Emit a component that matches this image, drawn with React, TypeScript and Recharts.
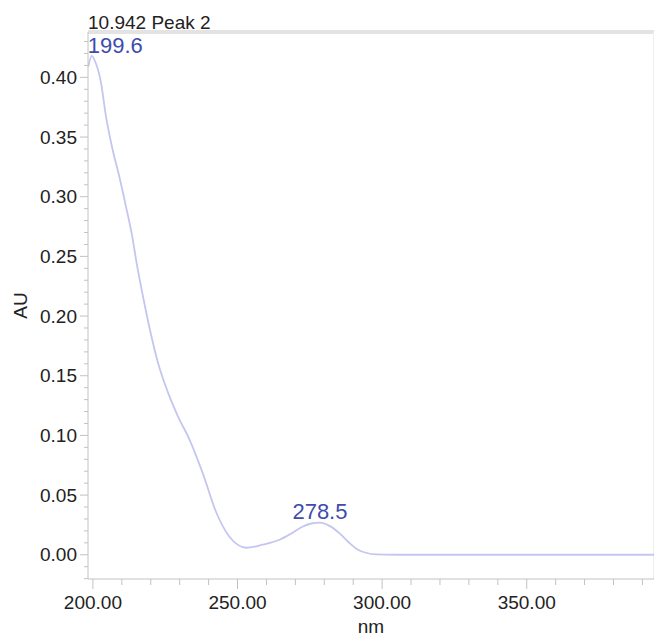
import React from 'react';
import { LineChart, Line, XAxis, YAxis, ReferenceLine, ReferenceDot } from 'recharts';

const wavelengths = [198.4, 199.6, 201.0, 202.8, 204.5, 206.8, 209.1, 211.4, 213.5, 215.1, 217.3, 219.7, 222.5, 226.0, 229.4, 233.4, 237.9, 242.7, 247.2, 250.0, 253.0, 258.6, 264.5, 268.0, 272.4, 275.5, 278.5, 282.0, 285.5, 288.6, 291.5, 294.4, 298.0, 305.0, 320.0, 340.0, 360.0, 380.0, 394.0];
const absorbance = [0.409, 0.418, 0.412, 0.3955, 0.3675, 0.3396, 0.3172, 0.2921, 0.268, 0.2446, 0.2166, 0.1887, 0.1608, 0.1356, 0.116, 0.0965, 0.0688, 0.0352, 0.0151, 0.0085, 0.0059, 0.0084, 0.0126, 0.017, 0.0235, 0.0262, 0.027, 0.024, 0.0175, 0.0101, 0.0045, 0.0017, 0.0003, 0, 0, 0, 0, 0, 0];

const peakNm = [199.6, 278.5];
const peakAu = [0.418, 0.027];

const xTicks = [200, 210, 220, 230, 240, 250, 260, 270, 280, 290, 300, 310, 320, 330, 340, 350, 360, 370, 380, 390];
const yTicks = [-0.02, -0.01, 0, 0.01, 0.02, 0.03, 0.04, 0.05, 0.06, 0.07, 0.08, 0.09, 0.1, 0.11, 0.12, 0.13, 0.14, 0.15, 0.16, 0.17, 0.18, 0.19, 0.2, 0.21, 0.22, 0.23, 0.24, 0.25, 0.26, 0.27, 0.28, 0.29, 0.3, 0.31, 0.32, 0.33, 0.34, 0.35, 0.36, 0.37, 0.38, 0.39, 0.4, 0.41, 0.42, 0.43];
const xDomain = [198.3, 394];
const yDomain = [-0.0203, 0.438];

const title = '10.942 Peak 2';
const xLabel = 'nm';
const yLabel = 'AU';

const data = wavelengths.map((nm, i) => ({ nm, au: absorbance[i] }));

const FONT = '"Liberation Sans", Arial, Helvetica, sans-serif';
const AXIS = '#c2c2c2';
const TEXT = '#222';
const BLUE = '#3e4cab';

const XTick = (props: any) => {
  const { x, y, payload } = props;
  const v = payload.value;
  const major = Math.round(v) % 50 === 0;
  return (
    <g>
      <line x1={x} x2={x} y1={y} y2={y + (major ? 10 : 6)} stroke={AXIS} strokeWidth={1} />
      {major && (
        <text x={x} y={y + 30} textAnchor="middle" fontSize={19} fontFamily={FONT} fill={TEXT}>
          {v.toFixed(2)}
        </text>
      )}
    </g>
  );
};

const YTick = (props: any) => {
  const { x, y, payload } = props;
  const v = payload.value;
  const major = Math.round(v * 100) % 5 === 0 && v >= 0;
  return (
    <g>
      <line x1={x - (major ? 8 : 4)} x2={x} y1={y} y2={y} stroke={AXIS} strokeWidth={1} />
      {major && (
        <text x={x - 11} y={y} dy="0.35em" textAnchor="end" fontSize={19} fontFamily={FONT} fill={TEXT}>
          {v.toFixed(2)}
        </text>
      )}
    </g>
  );
};

export default function App() {
  return (
    <div style={{ position: 'absolute', left: 0, top: 0, width: 654, height: 636, background: '#fff', overflow: 'hidden' }}>
      <div
        style={{
          position: 'absolute',
          left: 88,
          top: 13,
          fontSize: 19,
          lineHeight: '19px',
          fontFamily: FONT,
          color: TEXT,
          whiteSpace: 'nowrap',
        }}
      >
        {title}
      </div>
      <LineChart width={654} height={636} data={data} margin={{ top: 32, right: 0, left: 0, bottom: 0 }}>
        <XAxis
          dataKey="nm"
          type="number"
          domain={xDomain}
          ticks={xTicks}
          interval={0}
          allowDataOverflow
          tickSize={0}
          tickMargin={0}
          tick={<XTick />}
          axisLine={{ stroke: AXIS }}
          height={57}
          label={{ value: xLabel, position: 'insideBottom', offset: 3, fontSize: 19, fontFamily: FONT, fill: TEXT }}
        />
        <YAxis
          type="number"
          domain={yDomain}
          ticks={yTicks}
          interval={0}
          allowDataOverflow
          tickSize={0}
          tickMargin={0}
          tick={<YTick />}
          axisLine={{ stroke: AXIS }}
          width={88}
          label={{
            content: (p: any) => {
              const vb = p.viewBox || { x: 0, y: 32, width: 88, height: 547 };
              const cx = vb.x + 20;
              const cy = vb.y + vb.height / 2;
              return (
                <text
                  x={cx}
                  y={cy}
                  dy="0.35em"
                  textAnchor="middle"
                  transform={`rotate(-90, ${cx}, ${cy})`}
                  fontSize={19}
                  fontFamily={FONT}
                  fill={TEXT}
                >
                  {yLabel}
                </text>
              );
            },
          }}
        />
        <ReferenceLine y={yDomain[1]} stroke="#e3e3e3" strokeWidth={4} ifOverflow="extendDomain" />
        <ReferenceLine x={xDomain[1]} stroke="#eeeeee" strokeWidth={2} ifOverflow="extendDomain" />
        <Line
          type="monotone"
          dataKey="au"
          stroke="#c5c6ef"
          strokeWidth={1.8}
          dot={false}
          isAnimationActive={false}
        />
        {peakNm.map((nm, i) => (
          <ReferenceDot
            key={nm}
            x={nm}
            y={peakAu[i]}
            r={0}
            ifOverflow="visible"
            shape={(p: any) => (
              <text
                x={i === 0 ? p.cx - 4 : p.cx}
                y={i === 0 ? p.cy - 3 : p.cy - 4}
                textAnchor={i === 0 ? 'start' : 'middle'}
                fontSize={22}
                fontFamily={FONT}
                fill={BLUE}
              >
                {nm.toFixed(1)}
              </text>
            )}
          />
        ))}
      </LineChart>
    </div>
  );
}
